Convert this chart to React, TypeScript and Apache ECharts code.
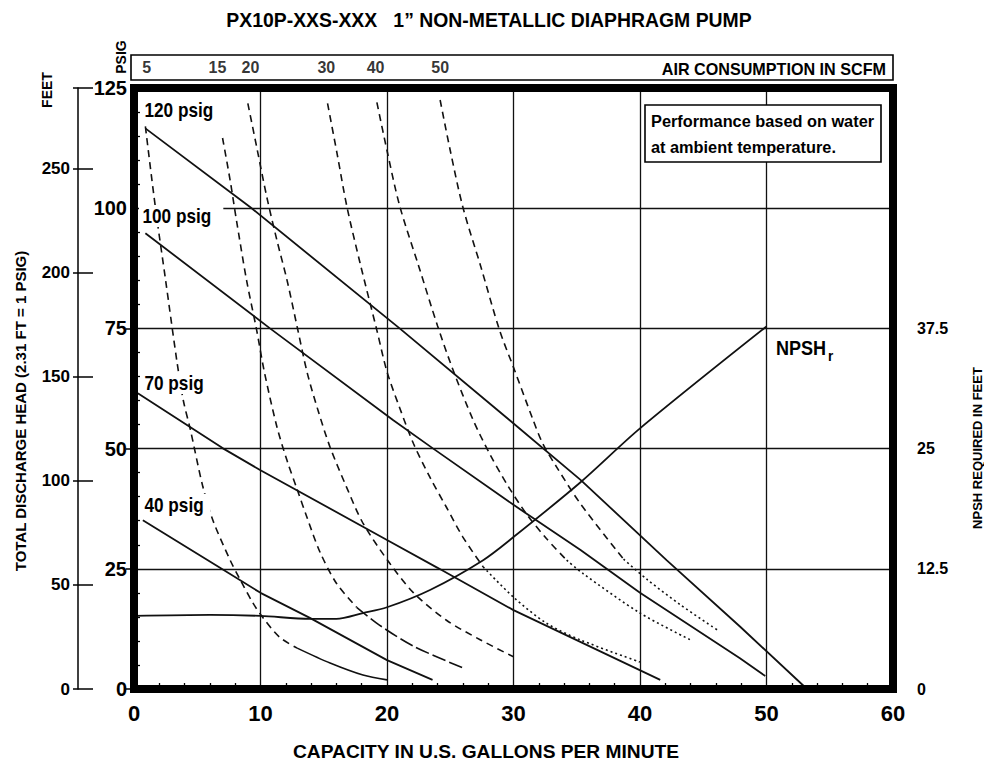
import React, { useEffect, useRef } from 'react';
import * as echarts from 'echarts';

const FONT = "'Liberation Sans', Arial, sans-serif";

// ---- data ----
const xMax = 60;
const psiMax = 125;
const feetMax = 288.75; // 125 psig * 2.31
const npshMax = 37.5;

const psig120: number[][] = [[0.9, 116.6], [9.2, 100.2], [21, 75], [29.7, 55.9], [35.3, 43.5], [42.1, 26.8], [47.9, 13], [53.2, 0]];
const psig100: number[][] = [[0.9, 94.8], [10.75, 75], [20.5, 55.9], [23.6, 50.1], [30, 38.3], [35.3, 28.9], [40, 20], [47.9, 6.4], [49.9, 2.7]];
const psig70: number[][] = [[0.3, 61.5], [7, 50.1], [10, 45.5], [20, 31], [24, 25.2], [30, 16.4], [41.6, 1.9]];
const psig40: number[][] = [[0.7, 35.1], [6.8, 25.2], [10, 20], [13.9, 14.8], [20, 6], [23.6, 1.9]];

const npsh: number[][] = [[0, 7.6], [6, 7.7], [10, 7.6], [13.9, 7.3], [16, 7.3], [18.1, 7.9], [20, 8.5], [23.4, 10.3], [27.6, 13.4], [30, 15.8], [35.3, 21.5], [40, 27.1], [50, 37.7]];

const air5: number[][] = [[0.9, 117], [1.7, 100], [2.5, 85], [3.4, 68], [3.9, 60], [4.45, 54], [5.45, 42], [6.25, 35], [7.6, 26.8], [8.4, 22.7], [9.4, 17.9], [10.2, 14.8], [11.5, 10.8], [12.9, 8.5], [15.5, 5.4], [18.1, 2.9], [20, 1.9]];
const air15: number[][] = [[7.0, 114.6], [7.6, 105.8], [8.1, 97.5], [8.9, 85], [9.7, 74.6], [10.3, 66], [11.3, 54.5], [12.1, 47.5], [12.9, 41.5], [13.7, 35.5], [14.7, 28.5], [16, 22], [17.6, 17], [19.4, 13.3], [22.1, 8.9], [26, 4.4]];
const air20: number[][] = [[9.0, 121.8], [9.7, 112.7], [10.5, 102.3], [11.3, 93.3], [12.1, 85], [12.9, 75.3], [13.7, 65.7], [14.6, 57.5], [15.5, 50.3], [16.8, 42], [18.1, 34.5], [20.2, 26.2], [22.1, 20], [24.7, 14.3], [27.4, 10.2], [30, 6.7]];
const air30: number[][] = [[15.3, 121.8], [16.05, 111.4], [16.84, 100.2], [17.87, 88.6], [19.2, 74.6], [20, 66], [21, 58.5], [22.1, 51], [23.4, 44], [24.7, 37.8], [26, 31.6], [27.6, 25.4], [30, 19.1], [32.6, 13.7], [35.3, 10.2], [40, 5.6]];
const air40: number[][] = [[19.2, 122], [20, 112], [21, 100.5], [22.5, 88], [24, 75.5], [25.2, 66.5], [26.8, 56], [28.1, 49], [29.5, 42.5], [31, 36.5], [32.6, 31.3], [34.2, 26.8], [35.5, 24], [40, 15.8], [44, 10.2]];
const air50: number[][] = [[24.2, 122.5], [25, 112], [26, 100.2], [27.4, 88], [28.9, 74.6], [30, 66.9], [31.5, 56.3], [32.3, 51.1], [33.4, 46.2], [35.3, 38.5], [38.7, 27], [40.6, 22.7], [43.2, 17.5], [46.1, 12.3]];

const airLabels = ['5', '15', '20', '30', '40', '50'];
const airLabelX = [1.0, 6.6, 9.2, 15.2, 19.1, 24.2];

// ---- layout / style ----
const G = { left: 134, right: 91, top: 88, bottom: 77 };
const W = 984;
const H = 766;
const plotW = W - G.left - G.right;
const plotH = H - G.top - G.bottom;
const npshTop = G.top + plotH * (1 - (npshMax * 2) / psiMax);

const dashHead = [7, 5];
const airStyles = [
  { data: air5, split: 12.9, tail: 'solid' as any },
  { data: air15, split: 17.6, tail: [14, 4] },
  { data: air20, split: 99, tail: dashHead },
  { data: air30, split: 27.6, tail: [2, 3] },
  { data: air40, split: 34.2, tail: [2, 3] },
  { data: air50, split: 38.7, tail: [2, 3] },
];

function buildOption(): any {
  const series: any[] = [];
  const solid = (name: string, data: number[][]) => ({
    type: 'line', name, data, xAxisIndex: 0, yAxisIndex: 0, symbol: 'none', smooth: false,
    lineStyle: { color: '#111', width: 1.8 }, z: 3,
  });
  series.push(solid('120 psig', psig120));
  series.push(solid('100 psig', psig100));
  series.push(solid('70 psig', psig70));
  series.push(solid('40 psig', psig40));

  airStyles.forEach((a, i) => {
    const head = a.data.filter((p) => p[0] <= a.split);
    const tail = a.data.filter((p) => p[0] >= a.split);
    series.push({
      type: 'line', name: 'air' + airLabels[i], data: head, xAxisIndex: 0, yAxisIndex: 0,
      symbol: 'none', smooth: 0.3, lineStyle: { color: '#111', width: 1.6, type: dashHead }, z: 3,
    });
    if (tail.length > 1) {
      series.push({
        type: 'line', name: 'air' + airLabels[i] + 't', data: tail, xAxisIndex: 0, yAxisIndex: 0,
        symbol: 'none', smooth: 0.3, lineStyle: { color: '#111', width: 1.6, type: a.tail }, z: 3,
      });
    }
  });

  series.push({
    type: 'line', name: 'NPSHr', data: npsh, xAxisIndex: 2, yAxisIndex: 4, symbol: 'none',
    smooth: 0.3, clip: false, lineStyle: { color: '#111', width: 1.8 }, z: 3,
  });

  series.push({
    type: 'scatter', name: 'airLabels', xAxisIndex: 1, yAxisIndex: 3, symbolSize: 1,
    itemStyle: { color: 'rgba(0,0,0,0)' },
    data: airLabelX.map((x, i) => [x, 0.5, airLabels[i]]),
    label: {
      show: true, position: 'inside', formatter: (p: any) => p.value[2],
      fontFamily: FONT, fontWeight: 'bold', fontSize: 16, color: '#000',
    },
  });

  const t = (text: string, x: number, y: number, size: number, extra: any = {}) => ({
    type: 'text', x, y, z: 100, rotation: extra.rotation || 0, scaleX: extra.sx || 1,
    style: {
      text, fill: '#000', font: `bold ${size}px ${FONT}`,
      align: extra.align || 'left', verticalAlign: 'middle',
      backgroundColor: extra.bg, padding: extra.padding,
    },
  });

  const graphic: any[] = [
    t('PX10P-XXS-XXX   1\u201D NON-METALLIC DIAPHRAGM PUMP', 489, 20, 20, { align: 'center', sx: 0.97 }),
    t('CAPACITY IN U.S. GALLONS PER MINUTE', 486, 752, 19, { align: 'center', sx: 1.01 }),
    t('TOTAL DISCHARGE HEAD (2.31 FT = 1 PSIG)', 20, 411, 15, { align: 'center', rotation: Math.PI / 2 }),
    t('FEET', 47, 90, 14, { align: 'center', rotation: Math.PI / 2 }),
    t('PSIG', 121, 57, 14, { align: 'center', rotation: Math.PI / 2 }),
    t('NPSH REQUIRED IN FEET', 977, 448, 13, { align: 'center', rotation: Math.PI / 2 }),
    {
      type: 'rect', z: 99, shape: { x: 131, y: 55, width: 893 - 131, height: 25 },
      style: { fill: 'none', stroke: '#000', lineWidth: 1.6 },
    },
    t('AIR CONSUMPTION IN SCFM', 886, 69, 17, { align: 'right', sx: 0.95 }),
    {
      type: 'rect', z: 99, shape: { x: 645, y: 105, width: 236, height: 57 },
      style: { fill: '#fff', stroke: '#000', lineWidth: 1.6 },
    },
    t('Performance based on water', 651, 121, 16, { sx: 1.02 }),
    t('at ambient temperature.', 651, 147, 16, { sx: 1.02 }),
    t('120 psig', 141, 110, 20, { bg: '#fff', padding: [1, 14, 1, 4], sx: 0.86 }),
    t('100 psig', 139, 216, 20, { bg: '#fff', padding: [1, 14, 1, 4], sx: 0.86 }),
    t('70 psig', 141, 383, 20, { bg: '#fff', padding: [1, 8, 1, 4], sx: 0.86 }),
    t('40 psig', 141, 505, 20, { bg: '#fff', padding: [1, 8, 1, 4], sx: 0.86 }),
    t('NPSH', 776, 347, 21, { sx: 0.86 }),
    t('r', 828, 356, 15, { sx: 0.9 }),
    {
      type: 'rect', z: 101,
      shape: { x: G.left, y: G.top, width: plotW, height: plotH },
      style: { fill: 'none', stroke: '#000', lineWidth: 8 },
    },
  ];

  const labelFont = { fontFamily: FONT, fontWeight: 'bold', color: '#000' };

  return {
    animation: false,
    backgroundColor: '#fff',
    grid: [
      { left: G.left, right: G.right, top: G.top, bottom: G.bottom },
      { left: G.left, right: G.right, top: 55, height: 25 },
      { left: G.left, right: G.right, top: npshTop, bottom: G.bottom },
    ],
    xAxis: [
      {
        type: 'value', gridIndex: 0, min: 0, max: xMax, interval: 10,
        axisLine: { show: false },
        axisTick: { show: false, inside: true },
        minorTick: { show: true, splitNumber: 5, length: 6, lineStyle: { color: '#000', width: 1.3 } },
        splitLine: { show: true, lineStyle: { color: '#111', width: 1.3 } },
        axisLabel: { ...labelFont, fontSize: 22, margin: 13 },
      },
      { type: 'value', gridIndex: 1, min: 0, max: xMax, show: false },
      { type: 'value', gridIndex: 2, min: 0, max: xMax, show: false },
    ],
    yAxis: [
      {
        type: 'value', gridIndex: 0, position: 'left', min: 0, max: psiMax, interval: 25,
        axisLine: { show: false },
        axisTick: { show: false, inside: true },
        minorTick: { show: true, splitNumber: 5, length: 6, lineStyle: { color: '#000', width: 1.3 } },
        splitLine: { show: true, lineStyle: { color: '#111', width: 1.3 } },
        axisLabel: { ...labelFont, fontSize: 20, margin: 7 },
      },
      {
        type: 'value', gridIndex: 0, position: 'left', offset: 56, min: 0, max: feetMax, interval: 50,
        axisLine: { show: true, lineStyle: { color: '#000', width: 1.5 } },
        axisTick: { show: true, inside: true, length: 15, lineStyle: { color: '#000', width: 1.5 } },
        splitLine: { show: false },
        axisLabel: {
          ...labelFont, fontSize: 17, margin: 8,
          formatter: (v: number) => (v % 50 === 0 ? String(v) : ''),
        },
      },
      {
        type: 'value', gridIndex: 0, position: 'left', offset: 56, min: 0, max: feetMax, interval: 50,
        axisLine: { show: false },
        axisTick: { show: true, inside: false, length: 5, lineStyle: { color: '#000', width: 1.5 } },
        splitLine: { show: false },
        axisLabel: { show: false },
      },
      { type: 'value', gridIndex: 1, min: 0, max: 1, show: false },
      {
        type: 'value', gridIndex: 2, position: 'right', offset: 20, min: 0, max: npshMax, interval: 12.5,
        axisLine: { show: true, lineStyle: { color: '#000', width: 1.5 } },
        axisTick: { show: true, inside: true, length: 8, lineStyle: { color: '#000', width: 1.5 } },
        splitLine: { show: false },
        axisLabel: { ...labelFont, fontSize: 16, margin: 4 },
      },
    ],
    series,
    graphic,
  };
}

export default function App() {
  const ref = useRef<HTMLDivElement>(null);
  useEffect(() => {
    document.body.style.margin = '0';
    if (!ref.current) return;
    const chart = echarts.init(ref.current, undefined, { renderer: 'svg' });
    chart.setOption(buildOption());
    return () => chart.dispose();
  }, []);
  return <div ref={ref} style={{ width: W, height: H }} />;
}
